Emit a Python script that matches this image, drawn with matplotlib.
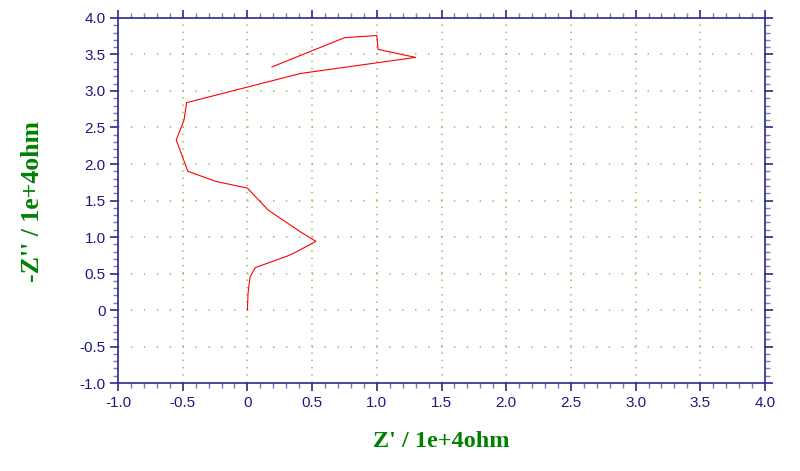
import numpy as np
import matplotlib
matplotlib.use('Agg')
import matplotlib.pyplot as plt
from matplotlib.ticker import MultipleLocator, FuncFormatter

# Nyquist data (units of 1e4 ohm)
z_real = [0.0, 0.005, 0.02, 0.06, 0.31, 0.36, 0.53, 0.41, 0.16, 0.0, -0.24,
          -0.46, -0.55, -0.49, -0.47, 0.41, 1.30, 1.01, 1.0, 0.75, 0.19]
z_imag = [0.0, 0.23, 0.45, 0.58, 0.74, 0.78, 0.94, 1.07, 1.37, 1.67, 1.76,
          1.90, 2.33, 2.60, 2.84, 3.24, 3.46, 3.57, 3.76, 3.73, 3.33]

plt.rcParams['lines.scale_dashes'] = False

fig = plt.figure(figsize=(8, 4.71), dpi=100)
ax = fig.add_axes([0.1475, 0.1868, 0.80875, 0.775])

ax.plot(z_real, z_imag, color='#ff0000', linewidth=0.8)

ax.set_xlim(-1, 4)
ax.set_ylim(-1, 4)

# ticks
spine_col = '#2a2a8c'
for s in ax.spines.values():
    s.set_color(spine_col)
    s.set_linewidth(1.2)

ax.xaxis.set_major_locator(MultipleLocator(0.5))
ax.yaxis.set_major_locator(MultipleLocator(0.5))
ax.xaxis.set_minor_locator(MultipleLocator(0.1))
ax.yaxis.set_minor_locator(MultipleLocator(0.1))

fmt = FuncFormatter(lambda v, p: '0' if abs(v) < 1e-9 else f'{v:.1f}')
ax.xaxis.set_major_formatter(fmt)
ax.yaxis.set_major_formatter(fmt)

ax.tick_params(which='both', direction='out', top=True, right=True,
               labeltop=False, labelright=False)
ax.tick_params(which='major', length=6, width=1.2, color=spine_col,
               labelsize=11, labelcolor='#1a1a80', pad=3)
ax.tick_params(which='minor', length=3.5, width=1.0, color='#7a7ab8')
for lab in ax.get_xticklabels() + ax.get_yticklabels():
    lab.set_fontfamily('Liberation Sans')

# dotted grid
ax.xaxis.grid(True, which='major', color='#8fbb5c', linewidth=1.1,
              linestyle=(0, (1.0, 4.25)))
ax.yaxis.grid(True, which='major', color='#8fbb5c', linewidth=1.1,
              linestyle=(0, (1.0, 8.3)))
ax.set_axisbelow(True)

lab_font = dict(family='Liberation Serif', weight='bold', size=17.5, color='#008000')
fig.text(0.551, 0.063, "Z' / 1e+4ohm", ha='center', va='center', **lab_font)
fig.text(0.041, 0.573, "-Z'' / 1e+4ohm", ha='center', va='center',
         rotation=90, fontsize=18.5,
         **{k: v for k, v in lab_font.items() if k != 'size'})

fig.savefig('out.png', dpi=100)
